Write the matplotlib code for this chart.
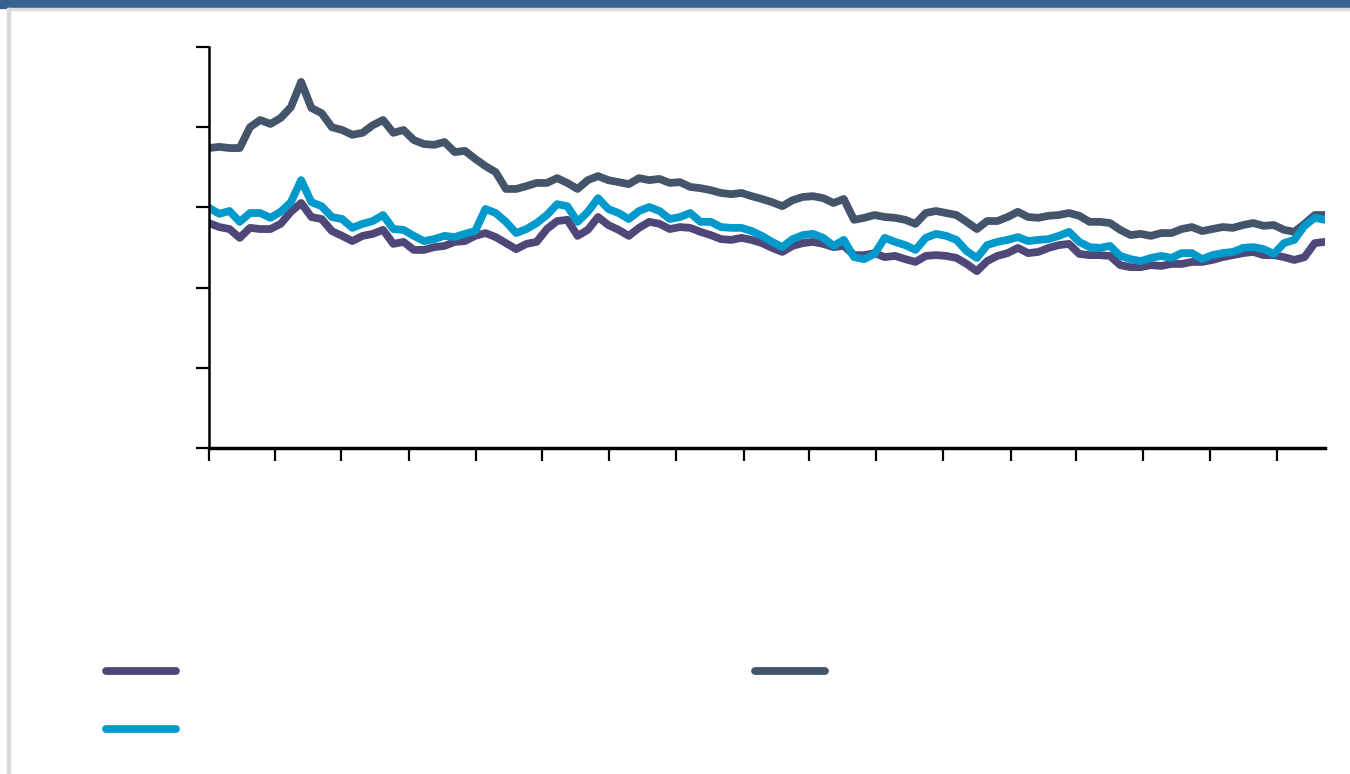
import matplotlib
matplotlib.use("Agg")
import matplotlib.pyplot as plt
import matplotlib.dates as mdates
from matplotlib.patches import Rectangle
import pandas as pd

start_date = "2019-01-01"
n_points = 110

series_a = [  # purple
    56.1, 55.1, 54.6, 52.4, 54.9, 54.6, 54.6, 55.9, 58.9, 61.1,
    57.6, 57.1, 54.1, 52.9, 51.6, 52.9, 53.4, 54.4, 50.9, 51.4,
    49.4, 49.4, 50.1, 50.4, 51.4, 51.6, 52.9, 53.6, 52.6, 51.1,
    49.6, 50.9, 51.4, 54.6, 56.6, 56.9, 52.9, 54.4, 57.6, 55.6,
    54.4, 52.9, 54.9, 56.4, 55.9, 54.6, 55.1, 54.9, 53.9, 53.1,
    52.1, 51.9, 52.4, 51.9, 51.1, 49.9, 48.9, 50.4, 51.1, 51.4,
    50.9, 50.1, 50.4, 48.1, 48.1, 48.6, 47.6, 47.9, 47.1, 46.4,
    47.9, 48.1, 47.9, 47.4, 45.9, 44.1, 46.6, 47.9, 48.6, 49.9,
    48.6, 48.9, 49.9, 50.6, 50.9, 48.4, 48.1, 48.1, 47.9, 45.6,
    45.1, 45.1, 45.6, 45.4, 45.9, 45.9, 46.4, 46.4, 46.9, 47.6,
    48.1, 48.6, 48.9, 48.1, 48.1, 47.6, 46.9, 47.6, 51.1, 51.4,
]

series_b = [  # cyan
    59.9, 58.4, 59.1, 56.4, 58.6, 58.6, 57.4, 58.9, 61.3, 66.8,
    61.3, 60.3, 57.6, 57.1, 54.9, 55.9, 56.6, 58.1, 54.6, 54.4,
    52.9, 51.6, 52.1, 52.9, 52.6, 53.4, 54.1, 59.6, 58.6, 56.4,
    53.6, 54.6, 56.1, 58.1, 60.8, 60.3, 56.4, 58.9, 62.3, 59.6,
    58.6, 57.1, 59.1, 60.1, 59.1, 57.1, 57.6, 58.6, 56.4, 56.4,
    55.1, 54.9, 54.9, 54.1, 52.9, 51.4, 50.1, 52.1, 53.1, 53.4,
    52.4, 50.4, 51.9, 47.6, 47.1, 48.4, 52.4, 51.4, 50.6, 49.4,
    52.4, 53.4, 52.9, 51.9, 49.1, 47.4, 50.6, 51.4, 51.9, 52.6,
    51.6, 51.9, 52.1, 52.9, 53.9, 51.4, 50.1, 49.9, 50.4, 47.9,
    47.1, 46.6, 47.4, 47.9, 47.4, 48.6, 48.6, 47.1, 48.1, 48.6,
    48.9, 49.9, 50.1, 49.6, 48.4, 51.1, 51.9, 55.4, 57.4, 56.9,
]

series_c = [  # dark slate
    74.8, 75.1, 74.8, 74.8, 80.0, 81.8, 80.8, 82.3, 85.0, 91.3,
    84.8, 83.5, 80.0, 79.3, 78.1, 78.6, 80.5, 81.8, 78.6, 79.3,
    76.8, 75.8, 75.6, 76.3, 73.8, 74.1, 72.1, 70.3, 68.8, 64.6,
    64.6, 65.3, 66.1, 66.1, 67.3, 66.1, 64.6, 66.8, 67.8, 66.8,
    66.3, 65.8, 67.3, 66.8, 67.1, 66.1, 66.3, 65.1, 64.8, 64.3,
    63.6, 63.3, 63.6, 62.8, 62.1, 61.3, 60.3, 61.8, 62.6, 62.8,
    62.3, 61.1, 62.1, 56.9, 57.4, 58.1, 57.6, 57.4, 56.9, 55.9,
    58.6, 59.1, 58.6, 58.1, 56.4, 54.6, 56.6, 56.6, 57.6, 58.9,
    57.6, 57.4, 57.9, 58.1, 58.6, 57.9, 56.4, 56.4, 56.1, 54.4,
    53.1, 53.4, 52.9, 53.6, 53.6, 54.6, 55.1, 54.1, 54.6, 55.1,
    54.9, 55.6, 56.1, 55.4, 55.6, 54.4, 53.9, 55.9, 58.1, 58.1,
]

y_ticks = [0, 20, 40, 60, 80, 100]

colors = {"a": "#4f4777", "b": "#0099cc", "c": "#44546a"}

dates = pd.date_range(start_date, periods=n_points, freq="14D")

fig = plt.figure(figsize=(13.5, 7.74), dpi=100)

# page decoration: blue band on top, grey frame lines
fig.patches.append(Rectangle((0, 1 - 8 / 774), 1, 8 / 774, transform=fig.transFigure,
                             color="#386192", zorder=0))
fig.patches.append(Rectangle((7 / 1350, 1 - 10 / 774), 1, 2 / 774, transform=fig.transFigure,
                             color="#dcdcdc", zorder=0))
fig.patches.append(Rectangle((7 / 1350, 0), 3 / 1350, 1 - 8 / 774, transform=fig.transFigure,
                             color="#d9d9d9", zorder=0))

ax = fig.add_axes([209 / 1350, 1 - 448 / 774, 1116 / 1350, 401 / 774])

line_kw = dict(lw=5.6, solid_capstyle="round", solid_joinstyle="round")
la, = ax.plot(dates, series_a, color=colors["a"], **line_kw)
lc, = ax.plot(dates, series_c, color=colors["c"], **line_kw)
lb, = ax.plot(dates, series_b, color=colors["b"], **line_kw)

ax.set_xlim(dates[0], dates[-1])
ax.set_ylim(0, 100)
ax.set_yticks(y_ticks)
ax.xaxis.set_major_locator(mdates.MonthLocator(bymonth=[1, 4, 7, 10]))
ax.set_xticklabels([])
ax.set_yticklabels([])
ax.tick_params(direction="out", length=9.5, width=1.6, color="black")

for side in ["top", "right"]:
    ax.spines[side].set_visible(False)
ax.spines["left"].set_linewidth(1.8)
ax.spines["bottom"].set_linewidth(2.5)
ax.spines["left"].set_bounds(0, 100)

fig.legend([la, lb, lc], ["", "", ""], ncol=2, frameon=False,
           loc="upper left", bbox_to_anchor=(96 / 1350, 1 - 653 / 774),
           fontsize=14, handlelength=3.6, handletextpad=0.8,
           columnspacing=29.0, labelspacing=2.0, borderpad=0)

fig.savefig("out.png", dpi=100)
